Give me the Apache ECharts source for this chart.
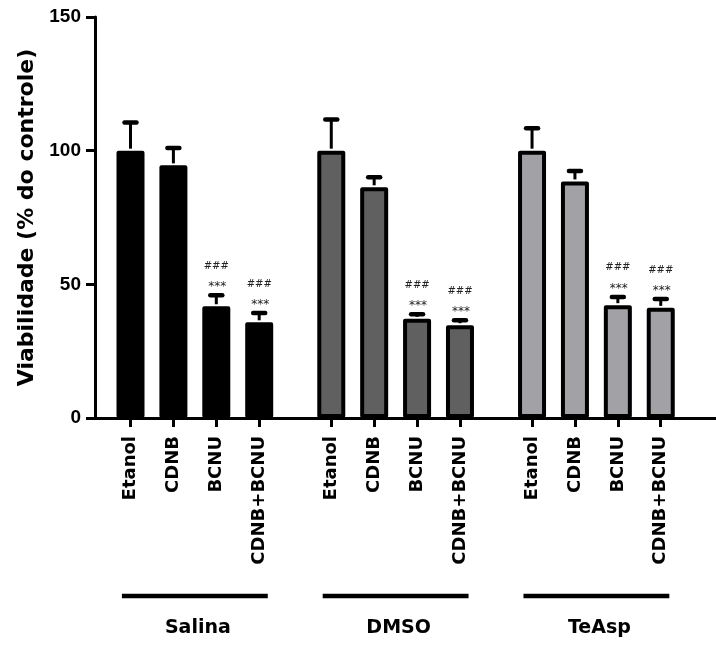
<!DOCTYPE html>
<html>
<head>
<meta charset="utf-8">
<script src="https://cdn.jsdelivr.net/npm/echarts@6/dist/echarts.min.js"></script>
<style>
  html, body { margin: 0; padding: 0; background: #fff; }
  #chart { width: 716px; height: 648px; }
</style>
</head>
<body>
<div id="chart"></div>
<script>
// ---- data ----
const groups = ['Salina', 'DMSO', 'TeAsp'];
const treatments = ['Etanol', 'CDNB', 'BCNU', 'CDNB+BCNU'];
const salinaMean = [100, 94.5, 41.8, 35.8];
const salinaSem = [10.5, 6.5, 4.1, 3.5];
const dmsoMean = [100, 86.3, 37.1, 34.7];
const dmsoSem = [11.7, 3.8, 1.7, 1.9];
const teaspMean = [100, 88.5, 42.2, 41.2];
const teaspSem = [8.4, 3.9, 3.1, 3.3];
const sigControl = ['', '', '***', '***'];
const sigSolvent = ['', '', '###', '###'];
const yMin = 0, yMax = 150, yStep = 50;
const yTitle = 'Viabilidade (% do controle)';

// ---- layout helpers (styles / positions) ----
const means = [salinaMean, dmsoMean, teaspMean];
const sems = [salinaSem, dmsoSem, teaspSem];
const fills = ['#000000', '#606060', '#a2a1a6'];
const GROUP_STEP = 4.68;
const pos = (gi, i) => gi * GROUP_STEP + i;

const tickPositions = [];
const labelMap = {};
groups.forEach((g, gi) => treatments.forEach((t, i) => {
  const p = pos(gi, i);
  tickPositions.push(p);
  labelMap[p.toFixed(3)] = t;
}));

const series = [];
groups.forEach((g, gi) => {
  series.push({
    type: 'bar',
    name: g,
    data: treatments.map((t, i) => [pos(gi, i), means[gi][i]]),
    barWidth: 28,
    barGap: '-100%',
    itemStyle: { color: fills[gi], borderColor: '#000', borderWidth: 4, borderJoin: 'round' },
    z: 2
  });
});

groups.forEach((g, gi) => {
  series.push({
    type: 'custom',
    name: g + ' sem',
    clip: false,
    z: 3,
    data: treatments.map((t, i) => [pos(gi, i), means[gi][i], sems[gi][i]]),
    renderItem: function (params, api) {
      const x = api.value(0), m = api.value(1), s = api.value(2);
      const base = api.coord([x, m]);
      const top = api.coord([x, m + s]);
      const idx = params.dataIndex;
      const children = [
        { type: 'line', shape: { x1: base[0], y1: base[1] - 2, x2: top[0], y2: top[1] },
          style: { stroke: '#000', lineWidth: 3 } },
        { type: 'line', shape: { x1: top[0] - 6, y1: top[1], x2: top[0] + 6, y2: top[1] },
          style: { stroke: '#000', lineWidth: 4.5, lineCap: 'round' } }
      ];
      if (sigControl[idx]) {
        children.push({ type: 'text', style: { text: sigControl[idx], x: top[0] + 1, y: top[1] - 8,
          align: 'center', verticalAlign: 'middle', fill: '#222',
          font: '12px "DejaVu Sans"' } });
      }
      if (sigSolvent[idx]) {
        children.push({ type: 'text', style: { text: sigSolvent[idx], x: top[0], y: top[1] - 29,
          align: 'center', verticalAlign: 'middle', fill: '#222',
          font: '10px "DejaVu Sans"' } });
      }
      return { type: 'group', children: children };
    }
  });
});

// group underline + name
series.push({
  type: 'custom',
  name: 'groups',
  clip: false,
  z: 3,
  data: groups.map((g, gi) => [pos(gi, 0), pos(gi, treatments.length - 1)]),
  renderItem: function (params, api) {
    const a = api.coord([api.value(0) - 0.2, 0]);
    const b = api.coord([api.value(1) + 0.2, 0]);
    const y = a[1] + 178;
    return { type: 'group', children: [
      { type: 'line', shape: { x1: a[0], y1: y, x2: b[0], y2: y },
        style: { stroke: '#000', lineWidth: 4.5 } },
      { type: 'text', style: { text: groups[params.dataIndex], x: (a[0] + b[0]) / 2 + 3, y: a[1] + 210,
        align: 'center', verticalAlign: 'middle', fill: '#000',
        font: 'bold 19px "DejaVu Sans"' } }
    ]};
  }
});

const chart = echarts.init(document.getElementById('chart'), null, { renderer: 'canvas' });
chart.setOption({
  animation: false,
  backgroundColor: '#fff',
  grid: { left: 95, right: 0, top: 17, bottom: 230, containLabel: false },
  xAxis: {
    type: 'value',
    min: (95 - 130.5) / 42.9,
    max: (716 - 130.5) / 42.9,
    splitLine: { show: false },
    axisLine: { show: true, onZero: false, lineStyle: { color: '#000', width: 3 } },
    axisTick: { show: true, customValues: tickPositions, length: 9, lineStyle: { color: '#000', width: 3 } },
    axisLabel: {
      show: true, customValues: tickPositions, rotate: 90, margin: 18,
      color: '#000', fontFamily: 'DejaVu Sans', fontWeight: 'bold', fontSize: 18,
      formatter: function (v) { return labelMap[Number(v).toFixed(3)] || ''; }
    }
  },
  yAxis: {
    type: 'value',
    min: yMin, max: yMax, interval: yStep,
    name: yTitle,
    nameLocation: 'middle',
    nameGap: 57,
    nameTextStyle: { color: '#000', fontFamily: 'DejaVu Sans', fontWeight: 'bold', fontSize: 22 },
    splitLine: { show: false },
    axisLine: { show: true, onZero: false, lineStyle: { color: '#000', width: 3 } },
    axisTick: { show: true, length: 9, lineStyle: { color: '#000', width: 3 } },
    axisLabel: { margin: 14, color: '#000', fontFamily: 'Liberation Sans', fontWeight: 'bold', fontSize: 19 }
  },
  series: series
});
</script>
</body>
</html>
